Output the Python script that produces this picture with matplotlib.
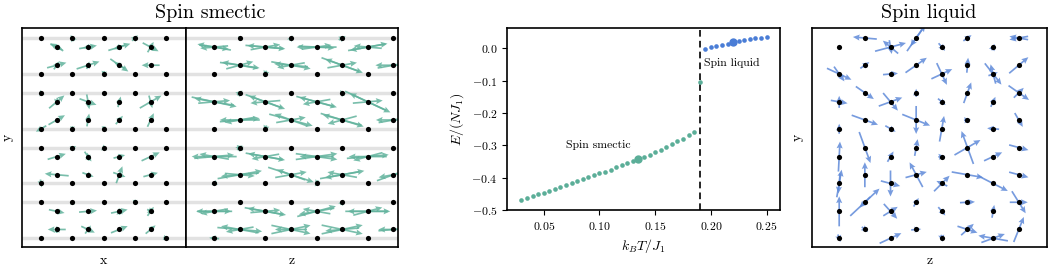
import numpy as np
import matplotlib
matplotlib.use("Agg")
import matplotlib.pyplot as plt

plt.rcParams["font.family"] = "serif"
plt.rcParams["font.serif"] = ["cmr10"]
plt.rcParams["mathtext.fontset"] = "cm"
plt.rcParams["axes.formatter.use_mathtext"] = True

# ---- energy curve ----
T_smectic = [0.030, 0.035, 0.040, 0.045, 0.050, 0.055, 0.060, 0.065, 0.070, 0.075,
             0.080, 0.085, 0.090, 0.095, 0.100, 0.105, 0.110, 0.115, 0.120, 0.125,
             0.130, 0.135, 0.140, 0.145, 0.150, 0.155, 0.160, 0.165, 0.170, 0.175,
             0.180, 0.185, 0.190]
E_smectic = [-0.470, -0.464, -0.458, -0.452, -0.447, -0.441, -0.435, -0.429, -0.423, -0.417,
             -0.411, -0.405, -0.399, -0.393, -0.387, -0.381, -0.375, -0.368, -0.362, -0.356,
             -0.349, -0.343, -0.336, -0.329, -0.321, -0.313, -0.305, -0.297, -0.288, -0.279,
             -0.269, -0.259, -0.105]
T_liquid = [0.195, 0.200, 0.205, 0.210, 0.215, 0.220, 0.225, 0.230, 0.235, 0.240, 0.245, 0.250]
E_liquid = [-0.002, 0.003, 0.007, 0.011, 0.015, 0.019, 0.022, 0.025, 0.028, 0.031, 0.033, 0.036]
T_c = 0.19
T_snap_smectic, E_snap_smectic = 0.135, -0.343
T_snap_liquid, E_snap_liquid = 0.22, 0.020

# ---- lattice rows (top to bottom) ----
row_y = [0, 0.29, 0.87, 1.15, 1.75, 2.04, 2.62, 2.9, 3.5, 3.79, 4.37, 4.65, 5.25, 5.54, 6.12, 6.4]
x_full = [0, 1, 2, 3, 4]
x_half = [0.5, 1.5, 2.5, 3.5]
z_full = [0, 1, 2, 3]
z_half = [0.5, 1.5, 2.5, 3.5]

# spins seen at each projected site: (angle in degrees, length in px)
smectic_x = [
    [[], [(120, 7)], [], [(45, 8)], []],
    [[(150, 15), (-25, 14)], [(10, 18), (190, 10)], [(17, 23), (200, 12)], [(-28, 18), (60, 12)]],
    [[(15, 20), (55, 10)], [(18, 24), (70, 8)], [(-35, 22), (150, 12)], [(180, 18)]],
    [[], [], [(-100, 6)], [], []],
    [[(110, 6)], [(100, 5)], [], [], [(60, 5)]],
    [[(40, 20), (-100, 8)], [(-80, 15), (-20, 18)], [(75, 11)], [(30, 25), (-75, 13)]],
    [[(30, 19)], [(80, 13)], [(50, 11)], [(65, 15)]],
    [[(210, 12)], [(-90, 5)], [(-95, 5)], [], []],
    [[], [(160, 6)], [(90, 6)], [], []],
    [[(17, 19)], [(-55, 12), (100, 8)], [(15, 12)], [(25, 20)]],
    [[(175, 24)], [(-20, 12)], [(70, 18), (-20, 13)], [(15, 15)]],
    [[(-80, 8)], [], [], [], []],
    [[], [(95, 5)], [], [(-90, 5)], []],
    [[(-12, 16)], [(5, 18)], [(12, 17), (95, 7)], [(55, 11), (-30, 8)]],
    [[(180, 18), (90, 7)], [(-25, 15), (55, 10)], [(22, 18)], [(40, 13)]],
    [[], [], [], [], [(-15, 6)]],
]
smectic_z = [
    [[(120, 5)], [(60, 6)], [(30, 8)], []],
    [[(170, 34), (-8, 30), (185, 28)], [(-5, 40), (175, 36), (10, 30)], [(180, 40), (-3, 36), (8, 30)], [(10, 40), (190, 36), (175, 28)]],
    [[(-8, 40), (170, 36), (15, 28)], [(-10, 40), (175, 34), (190, 28)], [(-20, 44), (160, 36), (10, 30)], [(180, 36), (10, 32)]],
    [[], [(-110, 7)], [], []],
    [[(40, 7)], [(90, 4)], [(130, 7)], []],
    [[(-12, 46), (170, 40), (5, 32)], [(-20, 42), (160, 35), (185, 30)], [(-15, 42), (165, 36), (190, 28)], [(-25, 50), (155, 40), (5, 30)]],
    [[(180, 40), (5, 40), (190, 30)], [(-15, 45), (160, 35), (10, 30)], [(-17, 45), (165, 40), (195, 30)], [(180, 35), (10, 30)]],
    [[], [(-110, 7)], [], []],
    [[(140, 8), (40, 7)], [], [], []],
    [[(180, 45), (5, 40), (170, 30)], [(-10, 40), (170, 35), (190, 28)], [(8, 42), (-8, 42), (180, 34)], [(5, 42), (180, 38), (195, 30)]],
    [[(10, 45), (185, 38), (-5, 30)], [(-18, 48), (160, 30), (10, 32)], [(10, 45), (190, 35), (170, 30)], [(20, 35), (190, 30)]],
    [[(200, 6)], [], [(-120, 7)], []],
    [[], [], [(60, 6)], []],
    [[(180, 36), (0, 34), (190, 28)], [(-10, 42), (170, 36), (5, 30)], [(15, 40), (190, 36), (170, 28)], [(0, 45), (180, 40), (15, 30)]],
    [[(-5, 45), (170, 38), (190, 28)], [(12, 40), (-12, 40), (180, 32)], [(12, 42), (-12, 42), (185, 34)], [(180, 30), (5, 30)]],
    [[(175, 10)], [], [], []],
]
liquid_z = [
    [[(175, 24)], [(55, 32), (235, 20)], [(35, 10)], [(170, 19), (190, 19)]],
    [[], [(15, 32), (140, 20), (-80, 14)], [(-50, 10)], [(65, 7)]],
    [[(35, 11)], [(35, 26)], [(85, 15)], [(40, 25)]],
    [[(-25, 27), (-55, 18)], [(5, 15)], [(-65, 24), (25, 23)], [(-52, 27), (105, 20), (20, 10)]],
    [[(-35, 22)], [(90, 8)], [(70, 22)], [(-35, 25), (45, 14)]],
    [[(-10, 17), (90, 12)], [(20, 25), (-50, 23)], [(-40, 10)], [(65, 11)]],
    [[(-20, 28)], [(-22, 30), (-90, 28)], [(5, 7)], [(-60, 16)]],
    [[(90, 10)], [(-30, 12)], [(80, 26)], [(175, 12)]],
    [[(-70, 33)], [(80, 17)], [(30, 30), (110, 35)], [(-15, 20)]],
    [[(87, 30)], [(60, 12)], [(5, 7)], [(25, 20)]],
    [[(90, 25)], [(118, 28), (15, 22)], [(-10, 32)], [(-15, 20)]],
    [[(80, 28), (-95, 20)], [(-90, 26), (-15, 20)], [(45, 22), (155, 12)], [(-27, 33)]],
    [[(43, 40), (225, 15)], [(60, 10)], [(3, 15)], [(-58, 26), (0, 18)]],
    [[(90, 30)], [(-48, 20), (32, 17)], [(-50, 11)], [(80, 13)]],
    [[(-40, 8)], [(5, 10)], [(-18, 21), (42, 17)], [(68, 27)]],
    [[(-70, 8)], [(25, 24)], [(-80, 7)], [(170, 30), (20, 25)]],
]

teal = "#5bae98"
blue = "#4a7dd6"
teal_arrow = "#62b39d"
blue_arrow = "#5f8ad9"


def draw_spins(ax, arrows, cols, color):
    dots_x, dots_y = [], []
    X, Y, U, V = [], [], [], []
    for i, row in enumerate(arrows):
        xs = cols[i % 4]
        for x, site in zip(xs, row):
            dots_x.append(x)
            dots_y.append(-row_y[i])
            for ang, ln in site:
                X.append(x)
                Y.append(-row_y[i])
                U.append(ln * np.cos(np.radians(ang)))
                V.append(ln * np.sin(np.radians(ang)))
    ax.quiver(X, Y, U, V, angles="uv", pivot="middle", scale_units="dots", scale=1,
              units="dots", width=1.7, headwidth=3.6, headlength=4.0, headaxislength=3.5,
              color=color, alpha=0.85, zorder=2)
    ax.scatter(dots_x, dots_y, s=14, color="black", zorder=3, linewidths=0)
    ax.set_xticks([])
    ax.set_yticks([])
    ax.set_ylim(-6.68, 0.32)
    for s in ax.spines.values():
        s.set_linewidth(1.2)


fig = plt.figure(figsize=(10.5, 2.7), dpi=100)

axA = fig.add_axes([22 / 1050, 23 / 270, 164 / 1050, 219 / 270])
axB = fig.add_axes([186 / 1050, 23 / 270, 212 / 1050, 219 / 270])
axC = fig.add_axes([507 / 1050, 60 / 270, 273 / 1050, 182 / 270])
axD = fig.add_axes([812 / 1050, 23 / 270, 235 / 1050, 219 / 270])

for ax in (axA, axB):
    for i in (0, 3, 4, 7, 8, 11, 12, 15):
        ax.axhline(-row_y[i], color="#e2e2e2", lw=2.5, zorder=0)

draw_spins(axA, smectic_x, [x_full, x_half, x_half, x_full], teal_arrow)
draw_spins(axB, smectic_z, [z_half, z_full, z_half, z_full], teal_arrow)
draw_spins(axD, liquid_z, [z_half, z_full, z_half, z_full], blue_arrow)
axA.set_xlim(-0.61, 4.63)
axB.set_xlim(-0.55, 3.59)
axD.set_xlim(-0.53, 4.05)

axA.set_xlabel("x", fontsize=10, labelpad=6)
axA.set_ylabel("y", fontsize=10, labelpad=6)
axB.set_xlabel("z", fontsize=10, labelpad=6)
axD.set_xlabel("z", fontsize=10, labelpad=6)
axD.set_ylabel("y", fontsize=10, labelpad=6)
fig.text(210 / 1050, 1 - 13 / 270, "Spin smectic", ha="center", va="center", fontsize=14.5)
fig.text(929 / 1050, 1 - 13 / 270, "Spin liquid", ha="center", va="center", fontsize=14.5)

# energy panel
axC.scatter(T_smectic, E_smectic, s=11, color=teal, linewidths=0, zorder=3)
axC.scatter(T_liquid, E_liquid, s=11, color=blue, linewidths=0, zorder=3)
axC.scatter([T_snap_smectic], [E_snap_smectic], s=36, color=teal, linewidths=0, zorder=4)
axC.scatter([T_snap_liquid], [E_snap_liquid], s=36, color=blue, linewidths=0, zorder=4)
axC.axvline(T_c, color="black", ls="--", lw=1.2, dashes=(4, 2.5))
axC.set_xlim(0.017, 0.262)
axC.set_ylim(-0.5, 0.063)
axC.set_xticks([0.05, 0.10, 0.15, 0.20, 0.25])
axC.set_yticks([0.0, -0.1, -0.2, -0.3, -0.4, -0.5])
axC.tick_params(labelsize=8.5)
axC.set_xlabel(r"$k_BT/J_1$", fontsize=10)
axC.set_ylabel(r"$E/(NJ_1)$", fontsize=10)
axC.text(0.099, -0.30, "Spin smectic", ha="center", va="center", fontsize=8.5)
axC.text(0.1935, -0.046, "Spin liquid", ha="left", va="center", fontsize=8.5)
for s in axC.spines.values():
    s.set_linewidth(1.2)

fig.savefig("out.png", dpi=100)
